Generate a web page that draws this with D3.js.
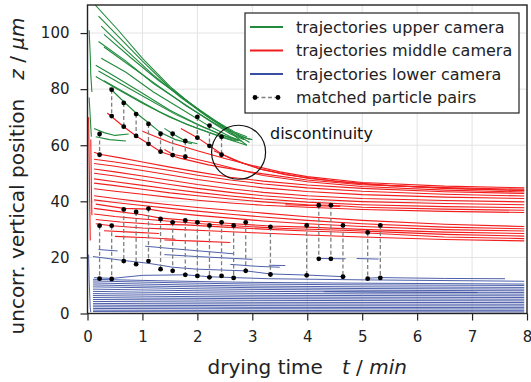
<!DOCTYPE html>
<html>
<head>
<meta charset="utf-8">
<script src="https://cdn.jsdelivr.net/npm/d3@7"></script>
<style>
  body { margin: 0; background: #fff; }
  svg { font-family: "DejaVu Sans", sans-serif; }
</style>
</head>
<body>
<div id="chart"></div>
<script>
// trajectories as [t (min), z (µm)] samples
const greenTracks = [
  [[0.14,110],[0.56,101],[1.0,91],[1.5,81],[2.05,72],[2.5,66],[2.9,60]],
  [[0.2,106],[0.6,98],[1.0,90],[1.5,80.5],[2.0,73],[2.5,66.5],[2.95,61]],
  [[0.25,102.5],[0.7,94],[1.2,85],[1.7,77],[2.2,70],[2.6,65],[2.95,62]],
  [[0.3,99.5],[0.8,91],[1.3,83],[1.8,76],[2.3,69],[2.7,64.5],[2.9,63]],
  [[0.2,97],[0.7,90],[1.2,82],[1.7,75.5],[2.2,69],[2.6,64],[2.85,62]],
  [[0.3,95],[0.8,88],[1.3,81],[1.8,74],[2.3,68],[2.7,63.5],[3.0,62]],
  [[0.25,91],[0.7,86],[1.2,79],[1.7,73],[2.2,67],[2.6,63],[2.8,61.5]],
  [[0.15,88.5],[0.5,84.5],[1.0,78.5],[1.5,72.5],[2.0,67.5],[2.4,64],[2.8,61.5]],
  [[0.2,86.5],[0.6,82],[1.1,76.5],[1.6,71],[2.1,66.5],[2.6,62.5],[2.75,61.5]],
  [[0.15,84.5],[0.5,80.5],[1.0,75],[1.5,70],[2.0,66],[2.5,62.5],[2.9,60]],
  [[0.3,83],[0.8,77.5],[1.3,72],[1.8,67.5],[2.3,64],[2.7,61.5]],
  [[0.4,80.5],[0.66,75.5],[0.885,71.5],[1.11,68],[1.33,64.5],[1.6,62],[1.9,60.5]],
  [[1.4,66],[1.55,64.1],[1.78,61.5],[2.0,60.5]],
  [[0.12,66],[0.3,64.5],[0.5,63.5],[0.75,64]],
  [[0.15,63],[0.4,62],[0.7,61.5]],
  [[0.03,101],[0.05,92],[0.06,85],[0.08,79]],
  [[0.03,77],[0.05,70],[0.07,63]]
];

const redTracks = [
  [[0.36,71.5],[0.66,66.6],[0.885,63.3],[1.11,60.5],[1.33,57.7],[1.7,55.3],[2.2,53],[2.7,51.3],[3.2,49.8],[4,47.6],[5,45.9],[6.5,44.9],[7.95,44.3]],
  [[1.0,65],[1.5,61],[2.0,58],[2.5,55.3],[3.0,52.8],[3.5,50.5],[4,48.8],[5,46.7],[6.5,45.4],[7.95,44.8]],
  [[1.4,58.5],[1.55,56.8],[1.78,55.9],[2.2,54],[2.7,51.5],[3.2,49.2],[4,47],[5,45.3],[6.5,44],[7.95,43.3]],
  [[1.7,66],[2.0,62.7],[2.22,59.8],[2.44,56.9],[2.8,53.8],[3.2,51.2],[4,48.2],[5,46.2],[6.5,44.6],[7.95,43.9]],
  [[2.3,58],[2.7,54.5],[3.1,51.8],[3.6,49.5],[4.5,47.2],[5.5,45.6],[7,44.3],[7.95,43.8]],
  [[0.12,57.5],[0.22,56.8],[0.6,55.5],[1,54],[1.5,52.2],[2,50.5],[2.6,48.6],[3.2,47.2],[4,45.8],[5,44.6],[6.5,43.4],[7.95,42.8]],
  [[0.12,55],[0.5,54],[1,52.5],[1.5,51],[2,49.3],[2.6,47.6],[3.2,46.2],[4,44.8],[5,43.6],[6.5,42.5],[7.95,41.9]],
  [[0.12,53.5],[0.5,52.5],[1,51],[1.5,49.4],[2,47.8],[2.6,46.2],[3.2,44.8],[4,43.5],[5,42.4],[6.5,41.5],[7.95,41]],
  [[0.12,51.5],[0.5,50.5],[1,49],[1.5,47.5],[2,46],[2.6,44.5],[3.2,43.2],[4,42],[5,41],[6.5,40.3],[7.95,39.8]],
  [[0.12,50],[0.5,49],[1,47.5],[1.5,46],[2,44.6],[2.6,43.2],[3.2,42],[4,40.8],[5,39.9],[6.5,39.2],[7.95,38.8]],
  [[0.12,48],[0.5,47],[1,45.7],[1.5,44.4],[2,43.2],[2.6,41.9],[3.2,40.8],[4,39.7],[5,38.8],[6.5,38.1],[7.95,37.7]],
  [[0.12,46.5],[0.5,45.6],[1,44.3],[1.5,43],[2,42],[2.6,40.8],[3.2,39.8],[4,38.8],[4.43,38.6],[5,37.9],[6.5,37.2],[7.95,36.8]],
  [[0.12,44.5],[0.5,43.6],[1,42.5],[1.5,41.4],[2,40.4],[2.6,39.4],[3.2,38.6],[4,37.9],[5,37.1],[6.5,36.4],[7.95,36]],
  [[0.12,42],[0.5,41],[1,39.8],[1.5,38.8],[2,37.8],[2.6,36.8],[3.2,35.8],[4,34.5],[5,33.2],[6.5,31.8],[7.95,31]],
  [[0.12,40.5],[0.5,39.6],[1,38.5],[1.5,37.5],[2,36.5],[2.6,35.4],[3.2,34.4],[4,33.2],[5,32],[6.5,30.8],[7.95,30.2]],
  [[0.15,39],[0.66,37.5],[1.11,37.2],[1.5,36],[2,35],[2.6,34],[3.2,33],[4,32],[5,31],[6.5,29.9],[7.95,29.4]],
  [[0.12,37.5],[0.5,36.5],[1,35.2],[1.33,34],[2,33],[2.66,32],[3.33,31.2],[4,30.8],[5,30],[6.5,29],[7.95,28.5]],
  [[0.12,35.5],[0.5,34.6],[1,33.7],[1.55,32.8],[2.2,31.8],[2.9,31],[3.6,30.3],[4.65,29.7],[5.5,29],[6.5,28.2],[7.95,27.6]],
  [[0.15,33.5],[0.6,32.6],[1.2,31.8],[1.78,31.6],[2.5,30.8],[3.3,30],[4,29.4],[5.1,28.7],[6.5,27.3],[7.95,26.7]],
  [[0.15,32],[0.44,31.3],[1,30.5],[1.6,30],[2.2,29.5],[3,28.8],[4,28],[5,27.3],[6.5,26.4],[7.95,25.9]],
  [[0.3,29.5],[0.8,29],[1.3,28.5]],
  [[0.5,27.5],[1.1,27],[1.6,26.5]],
  [[1.4,26.2],[2.0,25.8],[2.6,25.3]],
  [[3.6,38.8],[4.6,38.2]],
  [[0.02,70],[0.03,55],[0.04,40],[0.05,26]],
  [[0.06,62],[0.07,45],[0.08,35]]
];

const blueTracks = [
  [[0.02,21],[0.03,12],[0.05,2],[0.06,0.5]],
  [[0.1,20.3],[0.66,18.9],[1.11,17.9],[1.55,16.5],[2.0,15.8],[2.88,15.2],[3.33,14.1],[4,13.7],[4.7,13.1]],
  [[0.12,12.8],[0.44,12.5],[1.0,13.6],[1.78,13.8],[2.22,13.1],[2.66,12.8],[3.3,12.4],[5,12],[7.95,11.5]],
  [[0.2,22.8],[0.55,22.3]],
  [[1.05,24],[1.5,23.2],[2.1,22.2],[2.65,21.3]],
  [[1.4,21],[2.0,20.3],[2.7,19.6],[3.0,19.3]],
  [[2.6,17.5],[3.1,16.8],[3.5,16.5]],
  [[3.3,17.2],[3.6,17.1]],
  [[4.2,19.6],[4.7,19.5]],
  [[4.9,19.6],[5.3,19.4]],
  [[5.1,12.6],[5.33,12.8],[6.5,12.5],[7.6,12.4]],
  [[0.1,12.2],[1,11.8],[2,11.4],[3,11.1],[5,10.8],[7.95,10.5]],
  [[0.1,11.6],[1,11.2],[2,10.8],[3,10.5],[5,10.2],[7.95,10]],
  [[0.1,10.9],[1,10.5],[2,10.1],[3,9.8],[5,9.5],[7.95,9.3]],
  [[0.1,10.2],[1,9.8],[2,9.5],[3,9.2],[5,8.9],[7.95,8.7]],
  [[0.1,9.5],[1,9.2],[2,8.8],[3,8.6],[5,8.3],[7.95,8.1]],
  [[0.1,8.7],[1,8.4],[2,8.1],[3,7.9],[5,7.7],[7.95,7.5]],
  [[0.1,7.9],[1,7.6],[2,7.4],[3,7.2],[5,7.0],[7.95,6.9]],
  [[0.1,7.1],[1,6.9],[2,6.7],[3,6.5],[5,6.4],[7.95,6.3]],
  [[0.1,6.4],[1,6.2],[2,6.0],[3,5.9],[5,5.8],[7.95,5.7]],
  [[0.1,5.7],[1,5.5],[2,5.4],[3,5.3],[5,5.2],[7.95,5.1]],
  [[0.1,5.0],[1,4.9],[2,4.8],[3,4.7],[5,4.6],[7.95,4.5]],
  [[0.1,4.3],[1,4.2],[2,4.1],[3,4.0],[5,3.95],[7.95,3.9]],
  [[0.1,3.6],[1,3.5],[2,3.45],[3,3.4],[5,3.35],[7.95,3.3]],
  [[0.1,3.0],[1,2.9],[2,2.85],[3,2.8],[5,2.75],[7.95,2.7]],
  [[0.1,2.4],[1,2.35],[2,2.3],[3,2.2],[5,2.15],[7.95,2.1]],
  [[0.1,1.8],[1,1.75],[2,1.7],[3,1.7],[5,1.65],[7.95,1.6]],
  [[0.1,1.2],[1,1.15],[2,1.1],[3,1.1],[5,1.05],[7.95,1.0]],
  [[0.1,0.7],[1,0.65],[2,0.6],[3,0.6],[5,0.6],[7.95,0.55]],
  [[4.3,7.8],[5.5,7.6],[7.1,7.5]]
];

// matched particle pairs: time, upper z, lower z
const pairT     = [0.22,0.44,0.66,0.885,1.11,1.33,1.55,1.78,2.0,2.22,2.44,
                   0.22,0.44,0.66,0.885,1.11,1.33,1.55,1.78,2.0,2.22,2.44,2.66,2.88,3.33,3.99,4.21,4.43,4.65,5.10,5.33];
const pairUpper = [64.0,79.8,75.1,71.1,67.6,64.1,64.1,61.5,70.1,67.0,63.0,
                   31.3,31.3,37.1,36.2,37.4,33.7,32.5,33.2,32.5,31.4,32.5,31.4,32.5,30.9,31.4,38.6,38.6,31.4,28.9,31.4];
const pairLower = [56.6,70.4,66.6,63.3,60.5,57.7,56.5,55.9,62.7,59.8,56.6,
                   12.4,12.3,18.7,17.6,18.7,15.8,15.2,13.8,13.4,12.9,13.4,12.7,15.2,13.9,13.6,19.5,19.5,13.1,12.4,12.7];

const xTicks = [0,1,2,3,4,5,6,7,8];
const yTicks = [0,20,40,60,80,100];
const legendLabels = ["trajectories upper camera","trajectories middle camera","trajectories lower camera","matched particle pairs"];

const colGreen = "#218a3c", colRed = "#f21d1d", colBlue = "#3a4ea2";

const width = 531, height = 382;
const margin = { top: 5, right: 4, bottom: 68.5, left: 87.5 };

const svg = d3.select("#chart").append("svg")
  .attr("width", width).attr("height", height);

const x = d3.scaleLinear().domain([0, 8]).range([margin.left, width - margin.right]);
const y = d3.scaleLinear().domain([0, 110]).range([height - margin.bottom, margin.top]);

svg.append("clipPath").attr("id", "clip")
  .append("rect")
  .attr("x", margin.left).attr("y", margin.top)
  .attr("width", x(8) - x(0)).attr("height", y(0) - y(110));

// grid
const grid = svg.append("g").attr("stroke", "#e3e3e3").attr("stroke-width", 1);
grid.selectAll(".gx").data(xTicks).join("line")
  .attr("x1", d => x(d)).attr("x2", d => x(d))
  .attr("y1", y(0)).attr("y2", y(110));
grid.selectAll(".gy").data(yTicks).join("line")
  .attr("x1", x(0)).attr("x2", x(8))
  .attr("y1", d => y(d)).attr("y2", d => y(d));

const line = d3.line().x(d => x(d[0])).y(d => y(d[1]));
const plot = svg.append("g").attr("clip-path", "url(#clip)");

function drawTracks(tracks, color, w) {
  plot.append("g").selectAll("path")
    .data(tracks)
    .join("path")
    .attr("d", line)
    .attr("fill", "none")
    .attr("stroke", color)
    .attr("stroke-width", w);
}
drawTracks(blueTracks, colBlue, 0.9);
drawTracks(redTracks, colRed, 1.1);
drawTracks(greenTracks, colGreen, 1.1);

// matched pairs
const pairs = pairT.map((t, i) => ({ t, up: pairUpper[i], lo: pairLower[i] }));
plot.append("g").selectAll("line")
  .data(pairs)
  .join("line")
  .attr("x1", d => x(d.t)).attr("x2", d => x(d.t))
  .attr("y1", d => y(d.up)).attr("y2", d => y(d.lo))
  .attr("stroke", "#7f7f7f").attr("stroke-width", 1.3)
  .attr("stroke-dasharray", "4,2.5");
plot.append("g").selectAll("circle")
  .data(pairs.flatMap(d => [[d.t, d.up], [d.t, d.lo]]))
  .join("circle")
  .attr("cx", d => x(d[0])).attr("cy", d => y(d[1]))
  .attr("r", 2.4).attr("fill", "#000");

// discontinuity marker
svg.append("circle")
  .attr("cx", x(2.75)).attr("cy", y(57.5)).attr("r", 27)
  .attr("fill", "none").attr("stroke", "#111").attr("stroke-width", 1.2);
svg.append("text")
  .attr("x", 270).attr("y", 139)
  .attr("font-size", 16).attr("fill", "#111")
  .text("discontinuity");

// axes
const xAxis = svg.append("g")
  .attr("transform", `translate(0,${y(0)})`)
  .call(d3.axisBottom(x).tickValues(xTicks).tickSize(7).tickPadding(11));
const yAxis = svg.append("g")
  .attr("transform", `translate(${x(0)},0)`)
  .call(d3.axisLeft(y).tickValues(yTicks).tickSize(7).tickPadding(11));
[xAxis, yAxis].forEach(a => {
  a.select(".domain").remove();
  a.selectAll("text").attr("font-size", 15).attr("font-family", "DejaVu Sans").attr("fill", "#222");
  a.selectAll("line").attr("stroke", "#222").attr("stroke-width", 1.2);
});

// frame
svg.append("rect")
  .attr("x", x(0)).attr("y", y(110))
  .attr("width", x(8) - x(0)).attr("height", y(0) - y(110))
  .attr("fill", "none").attr("stroke", "#222").attr("stroke-width", 1.4);

// axis labels
const xl = svg.append("text")
  .attr("x", (x(0) + x(8)) / 2).attr("y", 374)
  .attr("text-anchor", "middle").attr("font-size", 20).attr("fill", "#222")
  .attr("xml:space", "preserve");
xl.append("tspan").text("drying time   ");
xl.append("tspan").attr("font-style", "italic").text("t");
xl.append("tspan").text(" / ");
xl.append("tspan").attr("font-style", "italic").text("min");

const yl = svg.append("text")
  .attr("transform", `translate(24,176) rotate(-90)`)
  .attr("text-anchor", "middle").attr("font-size", 20).attr("fill", "#222")
  .attr("xml:space", "preserve");
yl.append("tspan").text("uncorr. vertical position   ");
yl.append("tspan").attr("font-style", "italic").text("z");
yl.append("tspan").text(" / ");
yl.append("tspan").attr("font-style", "italic").text("µm");

// legend
const legend = svg.append("g");
legend.append("rect")
  .attr("x", 245).attr("y", 13).attr("width", 274).attr("height", 100)
  .attr("fill", "#fff").attr("stroke", "#222").attr("stroke-width", 1.2);
const legendColors = [colGreen, colRed, colBlue];
legendLabels.forEach((label, i) => {
  const ly = 27 + i * 23.5;
  if (i < 3) {
    legend.append("line")
      .attr("x1", 250).attr("x2", 283).attr("y1", ly).attr("y2", ly)
      .attr("stroke", legendColors[i]).attr("stroke-width", 2.2);
  } else {
    legend.append("line")
      .attr("x1", 255).attr("x2", 278).attr("y1", ly).attr("y2", ly)
      .attr("stroke", "#7f7f7f").attr("stroke-width", 1.3).attr("stroke-dasharray", "4,2.5");
    [255, 278].forEach(cx => legend.append("circle")
      .attr("cx", cx).attr("cy", ly).attr("r", 2.4).attr("fill", "#000"));
  }
  legend.append("text")
    .attr("x", 296).attr("y", ly).attr("dy", "0.35em")
    .attr("font-size", 16).attr("fill", "#222")
    .text(label);
});
</script>
</body>
</html>
